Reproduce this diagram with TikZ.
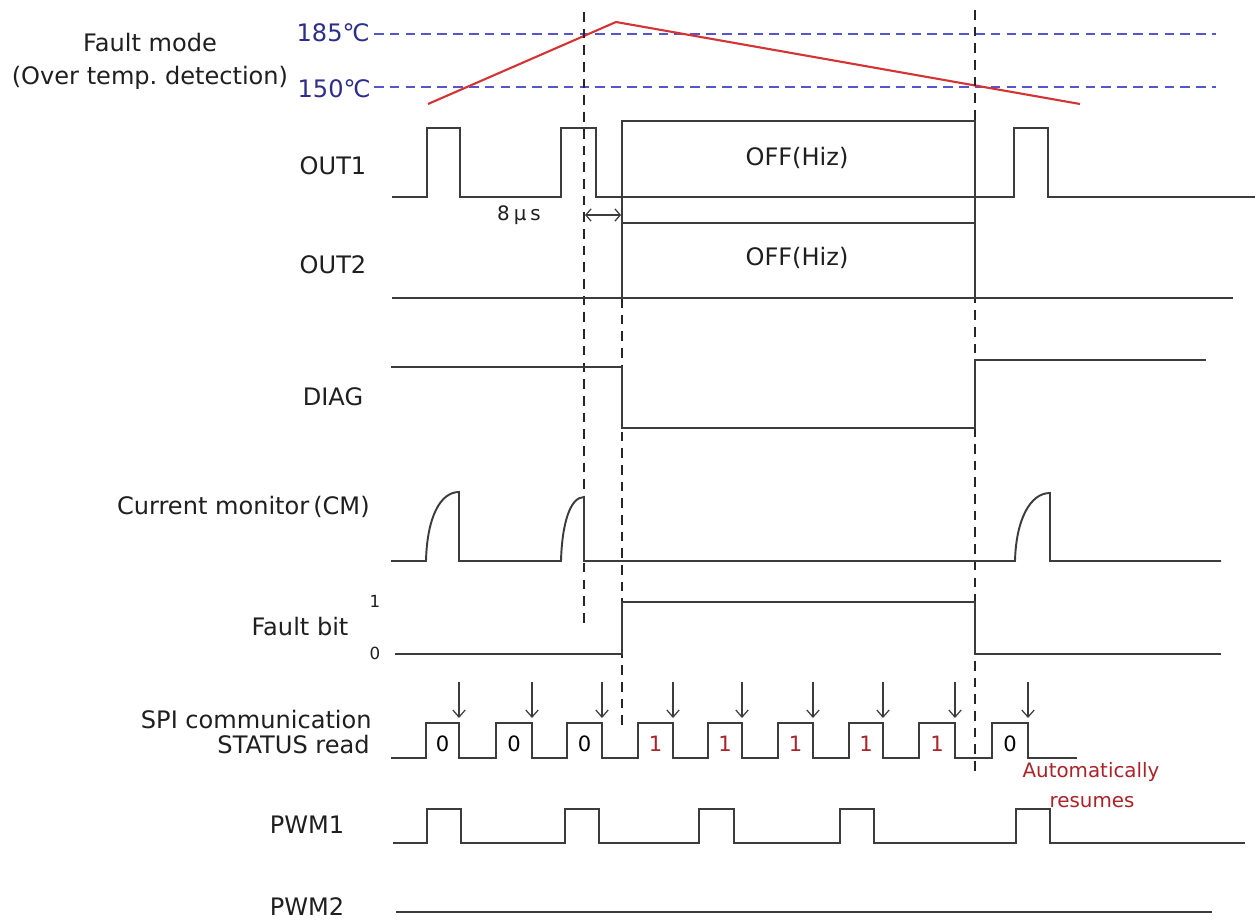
\documentclass[tikz,border=0pt]{standalone}
\usepackage{fontspec}
\setmainfont{DejaVu Sans}
\usetikzlibrary{arrows.meta}
\definecolor{sig}{RGB}{60,60,60}
\definecolor{tblue}{RGB}{85,85,205}
\definecolor{tnavy}{RGB}{45,45,140}
\definecolor{tred}{RGB}{212,52,52}
\definecolor{dred}{RGB}{170,35,40}
\tikzset{
  sigline/.style={draw=sig, line width=1.1pt, line join=miter},
  vdash/.style={draw=black!85, line width=0.8pt, dash pattern=on 5.5pt off 4pt},
  tempdash/.style={draw=tblue, line width=1.1pt, dash pattern=on 5.5pt off 3.5pt},
  lbl/.style={inner sep=0pt, font=\fontsize{13.7}{16}\selectfont, text=black!88},
  smalltxt/.style={inner sep=0pt, font=\fontsize{11.3}{13}\selectfont},
  bittxt/.style={inner sep=0pt, font=\fontsize{12}{14}\selectfont},
  tinytxt/.style={inner sep=0pt, font=\fontsize{9.5}{11}\selectfont, text=black!88},
  readarrow/.style={draw=sig, line width=0.7pt, -{Straight Barb[length=4pt,width=7pt]}},
  gaparrow/.style={draw=sig, line width=0.7pt, {Straight Barb[length=3pt,width=7pt]}-{Straight Barb[length=3pt,width=7pt]}},
}
\begin{document}
\frenchspacing
\begin{tikzpicture}[x=0.02cm, y=-0.02cm]
\useasboundingbox (0,0) rectangle (1255,920);
\fill[white] (0,0) rectangle (1255,920);

% ---------- labels ----------
\node[lbl] (fm) at (150,43) {Fault mode};
\node[lbl] (otd) at (150,78) {(Over temp.\ detection)};
\node[lbl, text=tnavy, anchor=east] (t185) at (370,33) {185℃};
\node[lbl, text=tnavy, anchor=east] (t150) at (371,89) {150℃};
\node[lbl] (lout1) at (333,166) {OUT1};
\node[lbl] (lout2) at (333,265) {OUT2};
\node[lbl] (ldiag) at (333,397) {DIAG};
\node[lbl, anchor=east] (lcm) at (370,507) {Current monitor\,(CM)};
\node[lbl] (lfb) at (300,627) {Fault bit};
\node[tinytxt] (fb1) at (375,601) {1};
\node[tinytxt] (fb0) at (375,653) {0};
\node[lbl, anchor=east] (lspi1) at (372,720) {SPI communication};
\node[lbl, anchor=east] (lspi2) at (370,745) {STATUS read};
\node[lbl] (lpwm1) at (307,825) {PWM1};
\node[lbl] (lpwm2) at (307,907) {PWM2};

% ---------- temperature ----------
\draw[tempdash] (374,34) -- (1216,34);
\draw[tempdash] (374,87) -- (1216,87);
\draw[draw=tred, line width=1.2pt, line join=round] (428,104) -- (616,22) -- (1080,104);

% ---------- vertical dashed markers ----------
\draw[vdash] (584,12) -- (584,623);
\draw[vdash] (622,298) -- (622,728);
\draw[vdash] (975,10) -- (975,772);

% ---------- OUT1 ----------
\draw[sigline] (392,197) -- (427,197) -- (427,128) -- (460,128) -- (460,197)
  -- (561,197) -- (561,128) -- (596,128) -- (596,197) -- (1014,197)
  -- (1014,128) -- (1048,128) -- (1048,197) -- (1255,197);
\draw[sigline] (622,298) -- (622,121) -- (975,121) -- (975,298);
\node[lbl] (off1) at (797,158) {OFF(Hiz)};
\draw[gaparrow] (585,215) -- (621,215);
\node[smalltxt, text=black!88] (gap) at (519,215) {8\kern0.2em μ\kern0.2em s};

% ---------- OUT2 ----------
\draw[sigline] (622,223) -- (975,223);
\draw[sigline] (392,298) -- (1233,298);
\node[lbl] (off2) at (797,258) {OFF(Hiz)};

% ---------- DIAG ----------
\draw[sigline] (391,367) -- (622,367) -- (622,428) -- (975,428) -- (975,360) -- (1206,360);

% ---------- Current monitor ----------
\draw[sigline] (391,561) -- (426,561) .. controls (427,518) and (440,492) .. (459,492)
  -- (459,561) -- (561,561) .. controls (562,524) and (570,497) .. (584,497)
  -- (584,561) -- (1015,561) .. controls (1016,520) and (1030,493) .. (1050,493)
  -- (1050,561) -- (1221,561);

% ---------- Fault bit ----------
\draw[sigline] (395,654) -- (622,654) -- (622,602) -- (975,602) -- (975,654) -- (1221,654);

% ---------- SPI ----------
\draw[sigline] (391,758)
  \foreach \s/\e in {426/459,496/532,567/602,638/673,708/742,778/813,849/883,919/955,992/1028}
  { -- (\s,758) -- (\s,723) -- (\e,723) -- (\e,758) } -- (1077,758);
\foreach \s/\e/\v/\c [count=\i] in {426/459/0/black,496/532/0/black,567/602/0/black,
  638/673/1/dred,708/742/1/dred,778/813/1/dred,849/883/1/dred,919/955/1/dred,992/1028/0/black}
{
  \node[bittxt, text=\c] (bit\i) at ({(\s+\e)/2},744) {\v};
  \draw[readarrow] (\e,682) -- (\e,718);
}
\node[smalltxt, text=dred] (auto1) at (1091,772) {Automatically};
\node[smalltxt, text=dred] (auto2) at (1092,802) {resumes};

% ---------- PWM1 ----------
\draw[sigline] (393,843)
  \foreach \s/\e in {427/461,565/599,699/734,840/874,1016/1050}
  { -- (\s,843) -- (\s,809) -- (\e,809) -- (\e,843) } -- (1245,843);

% ---------- PWM2 ----------
\draw[sigline] (396,912) -- (1212,912);
\end{tikzpicture}
\end{document}
